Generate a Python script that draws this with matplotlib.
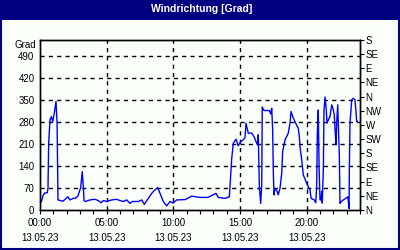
import matplotlib
matplotlib.use('Agg')
import matplotlib.pyplot as plt
from matplotlib.patches import Rectangle

# Wind direction readings for 13.05.23 (time in hours, direction in degrees)
hours = [0.10, 0.22, 0.35, 0.55, 0.60, 0.65, 0.75, 0.85, 0.95, 1.05,
         1.20, 1.28, 1.35, 1.72, 2.10, 2.23, 2.48, 2.65, 2.85, 3.05,
         3.17, 3.25, 3.30, 3.38, 3.75, 4.12, 4.37, 4.58, 4.75, 5.00,
         5.38, 5.75, 6.00, 6.25, 6.50, 6.75, 6.92, 7.37, 7.63, 7.82,
         8.12, 8.38, 8.62, 8.83, 9.00, 9.25, 9.50, 9.75, 9.98, 10.25,
         10.88, 11.38, 12.00, 12.60, 13.20, 13.37, 13.88, 14.20, 14.25, 14.38,
         14.50, 14.70, 14.87, 15.05, 15.25, 15.38, 15.45, 15.62, 15.88, 16.05,
         16.20, 16.30, 16.37, 16.45, 16.55, 16.63, 16.67, 16.80, 17.20, 17.30,
         17.38, 17.45, 17.50, 17.55, 17.62, 17.78, 17.87, 18.00, 18.13, 18.20,
         18.38, 18.62, 18.75, 18.83, 18.95, 19.12, 19.30, 19.37, 19.45, 19.50,
         19.63, 19.75, 20.00, 20.12, 20.25, 20.33, 20.57, 20.68, 20.75, 20.80,
         20.87, 20.93, 21.00, 21.08, 21.13, 21.17, 21.25, 21.30, 21.38, 21.45,
         21.53, 21.62, 21.75, 21.88, 22.00, 22.07, 22.13, 22.20, 22.25, 22.33,
         22.37, 22.45, 22.50, 22.58, 22.75, 22.93, 23.08, 23.12, 23.18, 23.20,
         23.25, 23.38, 23.50, 23.62, 23.70, 23.75, 23.80]
degrees = [26, 45, 54, 55, 70, 213, 286, 297, 281, 302,
           345, 277, 32, 28, 42, 32, 37, 37, 45, 71,
           122, 74, 30, 27, 32, 34, 30, 23, 30, 27,
           32, 34, 30, 27, 32, 21, 27, 27, 32, 18,
           37, 53, 64, 71, 53, 27, 13, 27, 22, 32,
           33, 44, 40, 40, 53, 40, 37, 42, 74, 164,
           212, 225, 204, 217, 223, 231, 276, 244, 244, 233,
           217, 207, 239, 74, 21, 80, 327, 316, 316, 305,
           323, 254, 117, 48, 69, 60, 48, 69, 117, 186,
           223, 244, 276, 313, 297, 281, 265, 260, 233, 201,
           159, 111, 85, 74, 64, 37, 32, 23, 74, 244,
           318, 138, 32, 32, 60, 22, 127, 318, 359, 329,
           276, 286, 297, 334, 318, 302, 254, 207, 276, 334,
           276, 170, 21, 26, 32, 37, 42, 30, 5, 127,
           276, 350, 355, 350, 313, 281, 281]

# Axis labels
time_ticks = [0, 5, 10, 15, 20]
time_labels = ['00:00\n13.05.23', '05:00\n13.05.23', '10:00\n13.05.23',
               '15:00\n13.05.23', '20:00\n13.05.23']
degree_ticks = [0, 70, 140, 210, 280, 350, 420, 490]
compass_ticks = [0, 45, 90, 135, 180, 225, 270, 315, 360, 405, 450, 495, 540]
compass_labels = ['N', 'NE', 'E', 'SE', 'S', 'SW', 'W', 'NW', 'N', 'NE', 'E', 'SE', 'S']

NAVY = '#000080'
BG = '#fafffa'
FONT = 'Liberation Sans'


def plot_wind_direction():
    fig = plt.figure(figsize=(4, 2.5), dpi=100, facecolor=BG)

    # Title bar and frame
    fig.patches.append(Rectangle((0, 0.92), 1, 0.08, transform=fig.transFigure,
                                 facecolor=NAVY, edgecolor='none', zorder=0))
    fig.patches.append(Rectangle((0.002, 0.003), 0.996, 0.99, transform=fig.transFigure,
                                 facecolor='none', edgecolor=NAVY, linewidth=1.5, zorder=1))
    fig.text(0.505, 0.965, 'Windrichtung [Grad]', color='white', fontsize=7.5,
             fontweight='bold', family=FONT, ha='center', va='center')

    ax = fig.add_axes([0.1, 0.16, 0.8, 0.68])
    ax.set_facecolor(BG)
    ax.plot(hours, degrees, color='#0000ff', linewidth=1)

    ax.set_xlim(0, 24)
    ax.set_ylim(0, 540)

    # Dashed grid
    for y in degree_ticks[1:]:
        ax.axhline(y, color='black', linestyle=(0, (3, 3)), linewidth=1, zorder=0)
    for x in time_ticks[1:]:
        ax.axvline(x, color='black', linestyle=(0, (3, 3)), linewidth=1, zorder=0)

    ax.set_xticks(time_ticks)
    ax.set_xticklabels(time_labels, fontsize=7, family=FONT, linespacing=1.6)
    ax.set_xticks(range(0, 25), minor=True)
    ax.tick_params(axis='x', which='both', direction='out', length=3, width=0.8, pad=3)

    ax.set_yticks(degree_ticks)
    ax.set_yticklabels([str(v) for v in degree_ticks], fontsize=7, family=FONT)
    ax.tick_params(axis='y', length=0, pad=4)
    ax.text(-0.012, 525, 'Grad', transform=ax.get_yaxis_transform(), fontsize=7,
            family=FONT, ha='right', va='center')

    # Compass directions on the right
    ax2 = ax.twinx()
    ax2.set_ylim(0, 540)
    ax2.set_yticks(compass_ticks)
    ax2.set_yticklabels(compass_labels, fontsize=7, family=FONT)
    ax2.tick_params(axis='y', direction='out', length=3, width=0.8, pad=1)

    for a in (ax, ax2):
        for spine in a.spines.values():
            spine.set_linewidth(1)

    fig.savefig('out.png', dpi=100, facecolor=BG)
    plt.close(fig)


def main():
    plot_wind_direction()


if __name__ == '__main__':
    main()
